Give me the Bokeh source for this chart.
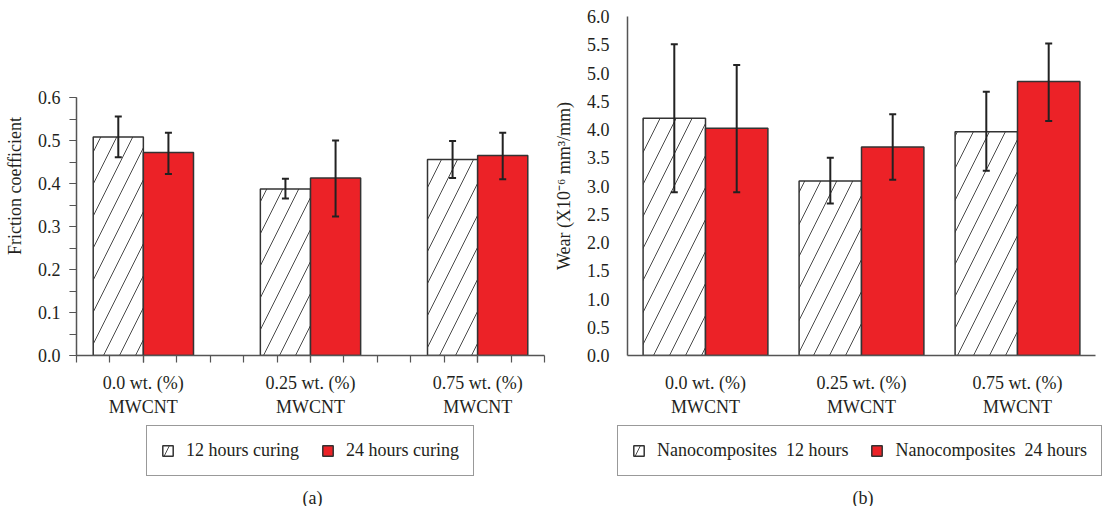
import numpy as np
from bokeh.plotting import figure
from bokeh.models import (ColumnDataSource, Whisker, TeeHead, FixedTicker,
                          Legend, LegendItem, Title, Range1d, NumeralTickFormatter)
from bokeh.layouts import row, column
from bokeh.transform import dodge
from bokeh.embed import file_html
from bokeh.resources import INLINE

# ---------------- data ----------------
categories = ["0.0 wt. (%)\nMWCNT", "0.25 wt. (%)\nMWCNT", "0.75 wt. (%)\nMWCNT"]

friction_12h = [0.508, 0.387, 0.456]
friction_12h_hi = [0.556, 0.411, 0.499]
friction_12h_lo = [0.461, 0.365, 0.413]
friction_24h = [0.472, 0.413, 0.465]
friction_24h_hi = [0.518, 0.500, 0.518]
friction_24h_lo = [0.422, 0.323, 0.410]

wear_12h = [4.20, 3.09, 3.96]
wear_12h_hi = [5.51, 3.50, 4.67]
wear_12h_lo = [2.89, 2.69, 3.27]
wear_24h = [4.02, 3.69, 4.85]
wear_24h_hi = [5.14, 4.27, 5.52]
wear_24h_lo = [2.89, 3.11, 4.15]

friction_ticks = [0.0, 0.1, 0.2, 0.3, 0.4, 0.5, 0.6]
wear_ticks = [0.0, 0.5, 1.0, 1.5, 2.0, 2.5, 3.0, 3.5, 4.0, 4.5, 5.0, 5.5, 6.0]

legend_a = ["12 hours curing", "24 hours curing"]
legend_b = ["Nanocomposites  12 hours", "Nanocomposites  24 hours"]
captions = ["(a)", "(b)"]

# ---------------- style ----------------
FONT = "Liberation Serif"
TXT = "#231f20"
RED = "#EC2227"
EDGE = "#333333"
AXC = "#555555"
FRAME_H = 339

HATCHED = dict(fill_color="white", line_color=EDGE, line_width=1.5,
               hatch_pattern="right_diagonal_line", hatch_color="#4a4a4a",
               hatch_weight=1, hatch_scale=32)
SOLID = dict(fill_color=RED, line_color=EDGE, line_width=1.5)

xs = list(range(len(categories)))


def build(v12, hi12, lo12, v24, hi24, lo24, bar_w, pad, yticks, yminor, yend, ylabel,
          bl, br, minor_x, ytick_out, ystandoff):
    src = ColumnDataSource(dict(x=xs, v12=v12, hi12=hi12, lo12=lo12,
                                v24=v24, hi24=hi24, lo24=lo24))
    p = figure(frame_width=468, frame_height=FRAME_H, output_backend="svg",
               toolbar_location=None,
               x_range=Range1d(-pad, len(xs) - 1 + pad), y_range=Range1d(0, yend),
               min_border_left=bl, min_border_right=br, min_border_top=16,
               min_border_bottom=66)
    p.outline_line_color = None
    p.grid.visible = False

    p.vbar(x=dodge("x", -bar_w / 2, range=p.x_range), top="v12", width=bar_w,
           source=src, **HATCHED)
    p.vbar(x=dodge("x", bar_w / 2, range=p.x_range), top="v24", width=bar_w,
           source=src, **SOLID)

    for off, hi, lo in ((-bar_w / 2, "hi12", "lo12"), (bar_w / 2, "hi24", "lo24")):
        w = Whisker(source=src, base=dodge("x", off, range=p.x_range), upper=hi, lower=lo,
                    level="overlay", line_color="#222222", line_width=2,
                    upper_head=TeeHead(size=7, line_color="#222222", line_width=2),
                    lower_head=TeeHead(size=7, line_color="#222222", line_width=2))
        p.add_layout(w)

    # x axis
    xa = p.xaxis[0]
    xa.ticker = FixedTicker(ticks=xs, minor_ticks=minor_x)
    xa.major_label_overrides = {i: c for i, c in zip(xs, categories)}
    xa.axis_line_color = AXC
    xa.axis_line_width = 1.5
    xa.major_tick_line_color = AXC
    xa.minor_tick_line_color = AXC
    xa.major_tick_line_width = 1.2
    xa.minor_tick_line_width = 1.2
    tick = 7 if minor_x else 0
    xa.major_tick_out = tick
    xa.minor_tick_out = tick
    xa.major_tick_in = 0
    xa.minor_tick_in = 0
    if not minor_x:
        xa.major_tick_line_color = None
        xa.minor_tick_line_color = None
    xa.major_label_standoff = 10 if minor_x else 17
    xa.major_label_text_font = FONT
    xa.major_label_text_font_size = "18px"
    xa.major_label_text_color = TXT

    # y axis
    ya = p.yaxis[0]
    ya.bounds = (0, yticks[-1])
    ya.ticker = FixedTicker(ticks=yticks, minor_ticks=yminor)
    ya.formatter = NumeralTickFormatter(format="0.0")
    ya.axis_line_color = AXC
    ya.axis_line_width = 1.5
    ya.major_tick_line_color = AXC
    ya.minor_tick_line_color = AXC
    ya.major_tick_line_width = 1.2
    ya.minor_tick_line_width = 1.2
    ya.major_tick_out = ytick_out
    ya.minor_tick_out = ytick_out
    ya.major_tick_in = 0
    ya.minor_tick_in = 0
    if ytick_out == 0:
        ya.major_tick_line_color = None
        ya.minor_tick_line_color = None
    ya.major_label_standoff = ystandoff
    ya.major_label_text_font = FONT
    ya.major_label_text_font_size = "18px"
    ya.major_label_text_color = TXT
    ya.axis_label = ylabel
    ya.axis_label_text_font = FONT
    ya.axis_label_text_font_size = "18px"
    ya.axis_label_text_font_style = "normal"
    ya.axis_label_text_color = TXT
    ya.axis_label_standoff = 10
    return p


def legend_panel(v12, v24, labels, caption, width, loc, cap_off):
    # hidden bars in this strip: only their legend entries are drawn
    q = figure(frame_width=width, frame_height=64, output_backend="svg",
               toolbar_location=None, x_range=Range1d(-0.5, 2.5), y_range=Range1d(0, 6),
               x_axis_location=None, y_axis_location=None,
               min_border_left=0, min_border_right=0, min_border_top=0,
               min_border_bottom=0)
    q.outline_line_color = None
    q.grid.visible = False
    src = ColumnDataSource(dict(x=xs, v12=v12, v24=v24))
    g12 = q.vbar(x="x", top="v12", width=0.3, source=src, visible=False, **HATCHED)
    g24 = q.vbar(x="x", top="v24", width=0.3, source=src, visible=False, **SOLID)
    leg = Legend(items=[LegendItem(label=labels[0], renderers=[g12]),
                        LegendItem(label=labels[1], renderers=[g24])],
                 orientation="horizontal", location=loc,
                 label_text_font=FONT, label_text_font_size="18px", label_text_color=TXT,
                 glyph_width=13, glyph_height=13, label_standoff=12, spacing=22,
                 padding=14, margin=0, border_line_color=EDGE, border_line_width=1.5,
                 background_fill_alpha=1.0)
    q.add_layout(leg, "center")
    q.add_layout(Title(text=caption, align="left", offset=cap_off, text_font=FONT,
                       text_font_size="18px", text_font_style="normal",
                       text_color=TXT, standoff=0), "below")
    return q


# friction: 0.6 sits 81 px below the shared frame top (258 px for 0.6)
minor_a = [round(-0.4 + 0.2 * k, 1) for k in range(15)]
minor_fy = [round(0.05 * k, 2) for k in range(13)]
fric_end = 0.6 * FRAME_H / 258.0

pa = build(friction_12h, friction_12h_hi, friction_12h_lo,
           friction_24h, friction_24h_hi, friction_24h_lo,
           bar_w=0.3, pad=0.4, yticks=friction_ticks, yminor=minor_fy, yend=fric_end,
           ylabel="Friction coefficient", bl=76, br=6, minor_x=minor_a, ytick_out=7,
           ystandoff=9)

pb = build(wear_12h, wear_12h_hi, wear_12h_lo,
           wear_24h, wear_24h_hi, wear_24h_lo,
           bar_w=0.4, pad=0.5, yticks=wear_ticks, yminor=[], yend=6.0,
           ylabel="Wear (X10\u207b\u2076 mm\u00b3/mm)", bl=72, br=12, minor_x=[],
           ytick_out=0, ystandoff=18)

la = legend_panel(friction_12h, friction_24h, legend_a, captions[0], 550, (146, 9), 302)
lb = legend_panel(wear_12h, wear_24h, legend_b, captions[1], 552, (67, 9), 302)

layout = column(row(pa, pb), row(la, lb))
open("out.html", "w").write(file_html(layout, INLINE))
